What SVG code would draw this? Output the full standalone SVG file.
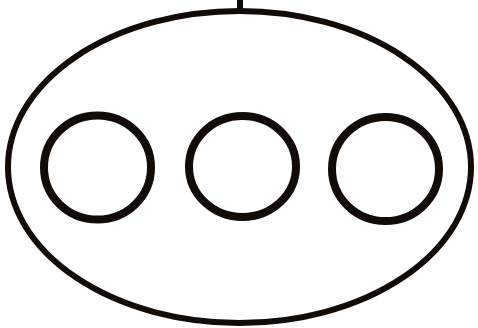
<svg xmlns="http://www.w3.org/2000/svg" width="478" height="328" viewBox="0 0 478 328">
<style>
.s{fill:none;stroke:#120b08;}
</style>
<rect width="478" height="328" fill="#ffffff"/>
<g id="connectors">
<line class="s" x1="240" y1="0" x2="240" y2="12" stroke-width="6"/>
</g>
<g id="outer">
<ellipse class="s" cx="239.5" cy="167" rx="231.5" ry="156" stroke-width="6"/>
</g>
<g id="c1">
<ellipse class="s" cx="97.5" cy="167.5" rx="53.5" ry="52" stroke-width="8"/>
</g>
<g id="c2">
<ellipse class="s" cx="242.5" cy="166.5" rx="53.5" ry="50.5" stroke-width="8"/>
</g>
<g id="c3">
<ellipse class="s" cx="385.5" cy="169" rx="53.5" ry="52" stroke-width="8"/>
</g>
</svg>
